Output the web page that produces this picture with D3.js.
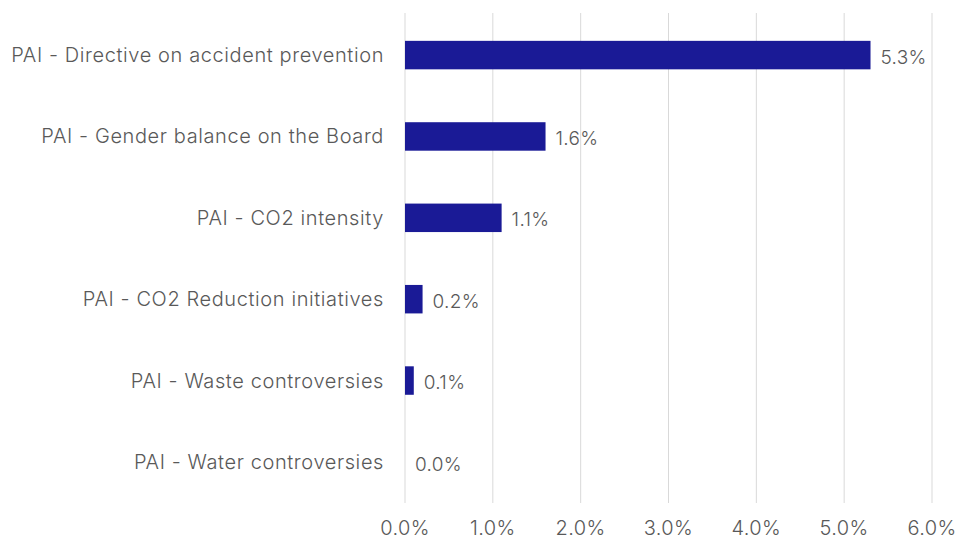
<!DOCTYPE html>
<html>
<head>
<meta charset="utf-8">
<script src="https://cdn.jsdelivr.net/npm/d3@7"></script>
<style>
  body { margin: 0; background: #fff; }
  text { font-family: Inter, "Noto Sans", sans-serif; fill: #595959; font-weight: 300; }
</style>
</head>
<body>
<div id="chart"></div>
<script>
//data
const categories = [
  "PAI - Directive on accident prevention",
  "PAI - Gender balance on the Board",
  "PAI - CO2 intensity",
  "PAI - CO2 Reduction initiatives",
  "PAI - Waste controversies",
  "PAI - Water controversies"
];
const values = [5.3, 1.6, 1.1, 0.2, 0.1, 0.0];
const ticks = [0, 1, 2, 3, 4, 5, 6];

const width = 958, height = 540;
const margin = { top: 14, right: 26, bottom: 37, left: 405 };

const svg = d3.select("#chart").append("svg")
  .attr("width", width)
  .attr("height", height);

const x = d3.scaleLinear()
  .domain([0, 6])
  .range([margin.left, width - margin.right]);

const y = d3.scaleBand()
  .domain(categories)
  .range([margin.top, height - margin.bottom])
  .paddingInner(0.65)
  .paddingOuter(0.33);

//gridlines
svg.append("g")
  .selectAll("line")
  .data(ticks)
  .join("line")
  .attr("x1", d => x(d))
  .attr("x2", d => x(d))
  .attr("y1", margin.top - 1)
  .attr("y2", height - margin.bottom)
  .attr("stroke", "#d9d9d9")
  .attr("stroke-width", 1);

//x axis labels
svg.append("g")
  .selectAll("text")
  .data(ticks)
  .join("text")
  .attr("x", d => x(d))
  .attr("y", 535)
  .attr("text-anchor", "middle")
  .style("font-size", "20px")
  .style("letter-spacing", "0.4px")
  .text(d => d.toFixed(1) + "%");

const rows = categories.map((c, i) => ({ name: c, value: values[i] }));

//bars
svg.append("g")
  .selectAll("rect")
  .data(rows)
  .join("rect")
  .attr("x", x(0))
  .attr("y", d => y(d.name))
  .attr("width", d => x(d.value) - x(0))
  .attr("height", y.bandwidth())
  .attr("fill", "#1a1a96");

//category labels
svg.append("g")
  .selectAll("text")
  .data(rows)
  .join("text")
  .attr("x", 384)
  .attr("y", d => y(d.name) + y.bandwidth() / 2)
  .attr("dy", "0.35em")
  .attr("text-anchor", "end")
  .style("font-size", "20px")
  .style("letter-spacing", "0.6px")
  .text(d => d.name);

//value labels
svg.append("g")
  .selectAll("text")
  .data(rows)
  .join("text")
  .attr("x", d => x(d.value) + 10)
  .attr("y", d => y(d.name) + y.bandwidth() / 2 + 2)
  .attr("dy", "0.35em")
  .style("font-size", "19px")
  .style("letter-spacing", "0.3px")
  .text(d => d.value.toFixed(1) + "%");
</script>
</body>
</html>
